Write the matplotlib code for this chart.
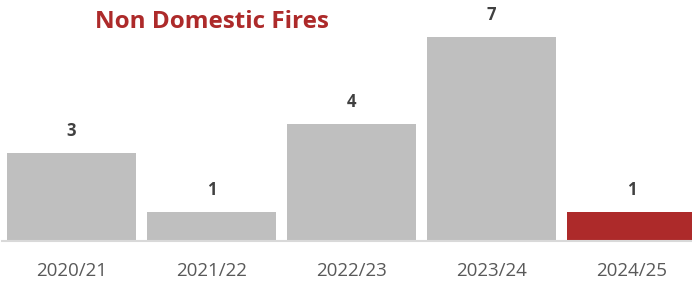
import matplotlib.pyplot as plt

# data
years = ['2020/21', '2021/22', '2022/23', '2023/24', '2024/25']
fires = [3, 1, 4, 7, 1]
colors = ['#BFBFBF', '#BFBFBF', '#BFBFBF', '#BFBFBF', '#AD2A2A']

plt.rcParams['font.family'] = ['Open Sans', 'DejaVu Sans']

W, H = 692, 284
fig = plt.figure(figsize=(W / 100, H / 100), dpi=100)

# axes: slots span 1.5px .. 701.5px, baseline at 240.7px from top
base_px = 240.7
unit_px = (base_px - 37) / 7
ax = fig.add_axes([1.5 / W, (H - base_px) / H, 700 / W, base_px / H])

x = range(len(years))
ax.bar(x, fires, width=0.92, color=colors, zorder=2)
ax.set_xlim(-0.5, 4.5)
ax.set_ylim(0, base_px / unit_px)

for i, v in enumerate(fires):
    ax.annotate(str(v), (i, v), xytext=(0, 22), textcoords='offset pixels',
                ha='center', va='center', fontsize=12, fontweight='bold',
                color='#404040')

ax.set_xticks(list(x))
ax.set_xticklabels(years, fontsize=13.5, color='#595959')
ax.tick_params(axis='x', length=0, pad=15)
ax.set_yticks([])
for s in ['top', 'right', 'left']:
    ax.spines[s].set_visible(False)
ax.spines['bottom'].set_color('#D9D9D9')
ax.spines['bottom'].set_linewidth(1.5)

fig.text(212 / W, 1 - 22 / H, 'Non Domestic Fires', ha='center', va='center',
         fontsize=17.5, fontweight='bold', color='#AD2A2A')

fig.savefig('out.png', dpi=100)
